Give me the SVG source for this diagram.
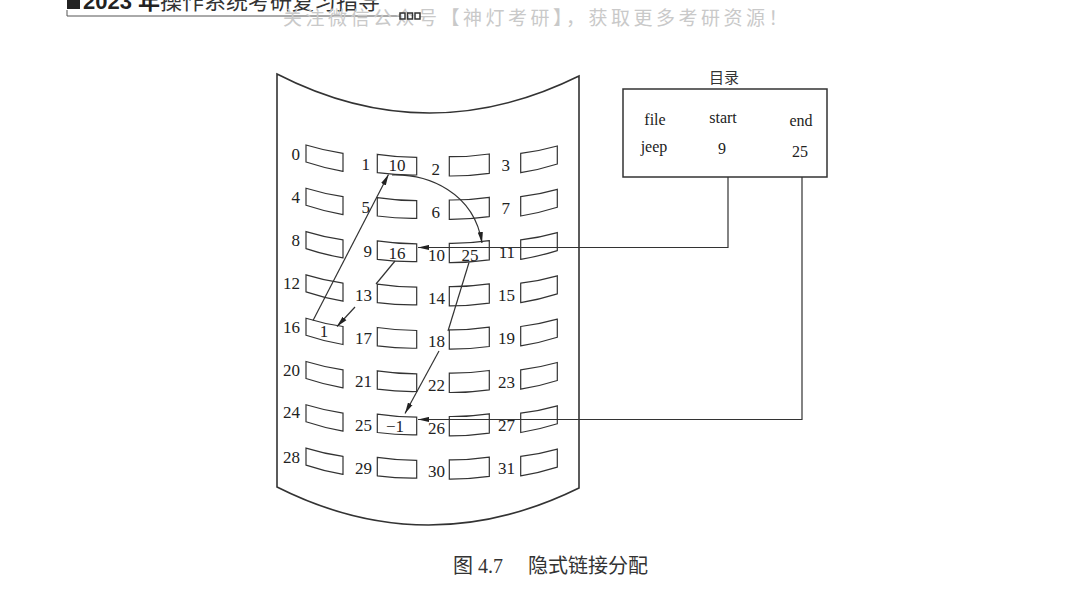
<svg xmlns="http://www.w3.org/2000/svg" xmlns:xlink="http://www.w3.org/1999/xlink" width="1075" height="593" viewBox="0 0 1075 593">
<style>
.num{font-family:"Liberation Serif","Noto Sans CJK SC",serif;font-size:17px;fill:#222}
.in{font-family:"Liberation Serif","Noto Sans CJK SC",serif;font-size:17px;fill:#222;text-anchor:middle}
.blk{fill:#fff;stroke:#333;stroke-width:1.2}
.ln{fill:none;stroke:#333;stroke-width:1.2}
.dir{font-family:"Liberation Serif","Noto Sans CJK SC",serif;font-size:16px;fill:#222;text-anchor:middle}
</style>
<defs>
<path id="b0" d="M0,0 Q18.5,5.7 37,8.3 L37,26.3 Q18.5,23.2 0,17 Z"/>
<path id="b1" d="M0,0 Q19.7,3 39.4,3 L39.4,20.7 Q19.7,21 0,18.4 Z"/>
<path id="b2" d="M0,0 Q20,0.2 40,-2.7 L40,16.6 Q20,19.4 0,19.3 Z"/>
<path id="b3" d="M0,0 Q18.3,-2.1 36.6,-7.3 L36.6,10.7 Q18.3,16.5 0,19.4 Z"/>
<marker id="ah" markerUnits="userSpaceOnUse" markerWidth="12" markerHeight="6" refX="11" refY="3" orient="auto">
<path d="M0,0.4 L11,3 L0,5.6 Z" fill="#222"/>
</marker>
</defs>
<rect width="1075" height="593" fill="#fff"/>

<g id="header">
<rect x="67" y="-4" width="13" height="13" fill="#222"/>
<text x="83" y="8.5" font-family="Liberation Sans,'Noto Sans CJK SC',sans-serif" font-size="22" font-weight="bold" fill="#222">2023 年<tspan font-weight="normal" font-family="'Noto Sans CJK SC',sans-serif" fill="#333">操作系统考研复习指导</tspan></text>
<path d="M67,10 L67,16 L400,16" fill="none" stroke="#555" stroke-width="1"/>
<text x="283" y="25" font-family="'Noto Sans CJK SC',sans-serif" font-size="19" fill="#c9c9c9" letter-spacing="3.5">关注微信公众号【神灯考研】，获取更多考研资源！</text>
<rect x="400" y="13" width="5" height="6" fill="none" stroke="#333" stroke-width="1.5"/>
<rect x="407.5" y="13" width="5" height="6" fill="none" stroke="#333" stroke-width="1.5"/>
<rect x="415" y="13" width="5" height="6" fill="none" stroke="#333" stroke-width="1.5"/>
</g>

<g id="disk">
<path d="M277,74 Q427,151 579,76 L579,488 Q427,562.5 277,487 Z" fill="none" stroke="#333" stroke-width="1.6"/>
</g>

<g id="blocks">
<g id="blk0"><use xlink:href="#b0" class="blk" x="306" y="145"/><text class="num" x="300" y="159.5" text-anchor="end">0</text></g>
<g id="blk1"><use xlink:href="#b1" class="blk" x="377.3" y="154.3"/><text class="num" x="370" y="170" text-anchor="end">1</text><text class="in" x="397" y="171">10</text></g>
<g id="blk2"><use xlink:href="#b2" class="blk" x="449.3" y="156.7"/><text class="num" x="440" y="174.5" text-anchor="end">2</text></g>
<g id="blk3"><use xlink:href="#b3" class="blk" x="520.7" y="153.3"/><text class="num" x="510" y="171" text-anchor="end">3</text></g>

<g id="blk4"><use xlink:href="#b0" class="blk" x="306" y="188.3"/><text class="num" x="300" y="202.8" text-anchor="end">4</text></g>
<g id="blk5"><use xlink:href="#b1" class="blk" x="377.3" y="197.6"/><text class="num" x="370" y="213.3" text-anchor="end">5</text></g>
<g id="blk6"><use xlink:href="#b2" class="blk" x="449.3" y="200"/><text class="num" x="440" y="217.8" text-anchor="end">6</text></g>
<g id="blk7"><use xlink:href="#b3" class="blk" x="520.7" y="196.6"/><text class="num" x="510" y="214.3" text-anchor="end">7</text></g>

<g id="blk8"><use xlink:href="#b0" class="blk" x="306" y="231.6"/><text class="num" x="300" y="246.1" text-anchor="end">8</text></g>
<g id="blk9"><use xlink:href="#b1" class="blk" x="377.3" y="240.9"/><text class="num" x="372" y="257.3" text-anchor="end">9</text><text class="in" x="397" y="258.6">16</text></g>
<g id="blk10"><use xlink:href="#b2" class="blk" x="449.3" y="243.3"/><text class="num" x="445" y="261.1" text-anchor="end">10</text><text class="in" x="470" y="261">25</text></g>
<g id="blk11"><use xlink:href="#b3" class="blk" x="520.7" y="239.9"/><text class="num" x="515" y="257.6" text-anchor="end">11</text></g>

<g id="blk12"><use xlink:href="#b0" class="blk" x="306" y="274.9"/><text class="num" x="300" y="289.4" text-anchor="end">12</text></g>
<g id="blk13"><use xlink:href="#b1" class="blk" x="377.3" y="284.2"/><text class="num" x="372" y="300.6" text-anchor="end">13</text></g>
<g id="blk14"><use xlink:href="#b2" class="blk" x="449.3" y="286.6"/><text class="num" x="445" y="304.4" text-anchor="end">14</text></g>
<g id="blk15"><use xlink:href="#b3" class="blk" x="520.7" y="283.2"/><text class="num" x="515" y="300.9" text-anchor="end">15</text></g>

<g id="blk16"><use xlink:href="#b0" class="blk" x="306" y="318.2"/><text class="num" x="300" y="332.7" text-anchor="end">16</text><text class="in" x="324" y="337">1</text></g>
<g id="blk17"><use xlink:href="#b1" class="blk" x="377.3" y="327.5"/><text class="num" x="372" y="343.9" text-anchor="end">17</text></g>
<g id="blk18"><use xlink:href="#b2" class="blk" x="449.3" y="329.9"/><text class="num" x="445" y="346.5" text-anchor="end">18</text></g>
<g id="blk19"><use xlink:href="#b3" class="blk" x="520.7" y="326.5"/><text class="num" x="515" y="344.2" text-anchor="end">19</text></g>

<g id="blk20"><use xlink:href="#b0" class="blk" x="306" y="361.5"/><text class="num" x="300" y="376" text-anchor="end">20</text></g>
<g id="blk21"><use xlink:href="#b1" class="blk" x="377.3" y="370.8"/><text class="num" x="372" y="387.2" text-anchor="end">21</text></g>
<g id="blk22"><use xlink:href="#b2" class="blk" x="449.3" y="373.2"/><text class="num" x="445" y="390.5" text-anchor="end">22</text></g>
<g id="blk23"><use xlink:href="#b3" class="blk" x="520.7" y="369.8"/><text class="num" x="515" y="387.5" text-anchor="end">23</text></g>

<g id="blk24"><use xlink:href="#b0" class="blk" x="306" y="404.8"/><text class="num" x="300" y="418.3" text-anchor="end">24</text></g>
<g id="blk25"><use xlink:href="#b1" class="blk" x="377.3" y="414.1"/><text class="num" x="372" y="430.5" text-anchor="end">25</text><text class="in" x="395" y="431.5" font-size="15">−1</text></g>
<g id="blk26"><use xlink:href="#b2" class="blk" x="449.3" y="416.5"/><text class="num" x="445" y="433.8" text-anchor="end">26</text></g>
<g id="blk27"><use xlink:href="#b3" class="blk" x="520.7" y="413.1"/><text class="num" x="515" y="430.8" text-anchor="end">27</text></g>

<g id="blk28"><use xlink:href="#b0" class="blk" x="306" y="448.1"/><text class="num" x="300" y="462.6" text-anchor="end">28</text></g>
<g id="blk29"><use xlink:href="#b1" class="blk" x="377.3" y="457.4"/><text class="num" x="372" y="473.8" text-anchor="end">29</text></g>
<g id="blk30"><use xlink:href="#b2" class="blk" x="449.3" y="459.8"/><text class="num" x="445" y="477.1" text-anchor="end">30</text></g>
<g id="blk31"><use xlink:href="#b3" class="blk" x="520.7" y="456.4"/><text class="num" x="515" y="474.1" text-anchor="end">31</text></g>
</g>

<g id="directory">
<text x="724" y="83" font-family="'Noto Sans CJK SC',sans-serif" font-size="15" fill="#333" text-anchor="middle">目录</text>
<rect x="623" y="89" width="204" height="88" fill="none" stroke="#333" stroke-width="1.5"/>
<text class="dir" x="655" y="125">file</text>
<text class="dir" x="723" y="123">start</text>
<text class="dir" x="801" y="126">end</text>
<text class="dir" x="654" y="152">jeep</text>
<text class="dir" x="722" y="154">9</text>
<text class="dir" x="800" y="157">25</text>
</g>

<g id="connectors">
<line class="ln" x1="313" y1="320.5" x2="388.5" y2="174.5" marker-end="url(#ah)"/>
<path class="ln" d="M392,175 C428,174 474,192 482,243" marker-end="url(#ah)"/>
<line class="ln" x1="395" y1="261" x2="376" y2="284"/>
<line class="ln" x1="355" y1="307" x2="337" y2="326.5" marker-end="url(#ah)"/>
<line class="ln" x1="469" y1="262.5" x2="448" y2="331"/>
<line class="ln" x1="439" y1="351" x2="405" y2="413.5" marker-end="url(#ah)"/>
<polyline class="ln" points="728,177 728,247.5 418,247.5" marker-end="url(#ah)"/>
<polyline class="ln" points="802,177 802,419.5 418,419.5" marker-end="url(#ah)"/>
</g>

<g id="caption">
<text x="453" y="573" font-family="'Liberation Serif','Noto Sans CJK SC',serif" font-size="20" fill="#333">图 4.7<tspan x="528">隐式链接分配</tspan></text>
</g>
</svg>
